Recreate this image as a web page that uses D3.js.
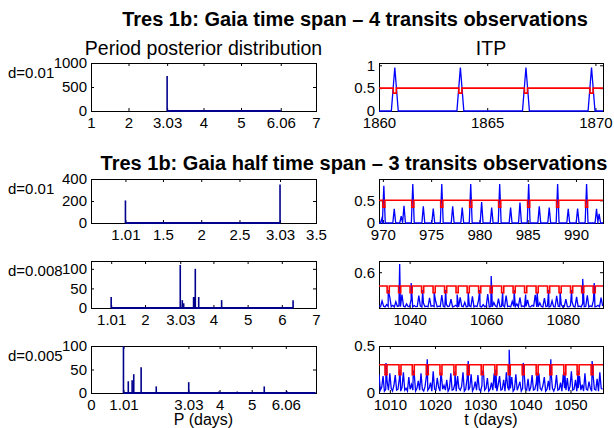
<!DOCTYPE html>
<html>
<head>
<meta charset="utf-8">
<script src="https://cdn.jsdelivr.net/npm/d3@7"></script>
<style>
  body { margin: 0; background: #fff; }
  svg { display: block; font-family: "Liberation Sans", Arial, Helvetica, sans-serif; }
  .tick text { font-size: 15px; fill: #000; }
  .tick line { stroke: #000; }
</style>
</head>
<body>
<svg id="fig" width="614" height="428"></svg>
<script>
// ---- text ----
const figTitles = ["Tres 1b: Gaia time span \u2013 4 transits observations",
                   "Tres 1b: Gaia half time span \u2013 3 transits observations"];
const colTitles = ["Period posterior distribution", "ITP"];
const dLabels = ["d=0.01", "d=0.01", "d=0.008", "d=0.005"];
const xLabels = ["P (days)", "t (days)"];

// ---- period posterior histograms: [P (days), count] ----
const postRow1 = [[3.03, 730], [6.06, 6]];
const postRow2 = [[1.01, 205], [3.03, 350]];
const postRow3 = [[1.01, 28], [3.03, 110], [3.09, 20], [3.13, 12], [3.42, 28], [3.45, 28],
                  [3.47, 100], [3.57, 28], [4.24, 20], [6.33, 20]];
const postRow4 = [[1.01, 100], [1.16, 25], [1.28, 27], [1.33, 40], [1.56, 55], [2.03, 14],
                  [3.04, 23], [3.98, 3], [4.55, 3], [5.02, 2], [5.39, 14], [6.09, 4], [6.98, 1]];

const postXTicks = [[1, 2, 3.03, 4, 5, 6.06, 7], [1.01, 1.5, 2, 2.5, 3.03, 3.5],
                    [1.01, 2, 3.03, 4, 5, 6, 7], [0, 1.01, 3.03, 4, 5, 6.06]];
const postYTicks = [[0, 500, 1000], [0, 200, 400], [0, 50, 100], [0, 50, 100]];
const postXDomains = [[1, 7], [0.56, 3.5], [0.42, 7], [0, 7]];
const postYDomains = [[0, 1000], [0, 400], [0, 120], [0, 100]];

// ---- ITP: transit times, detection thresholds ----
const transitsRow1 = [1860.73, 1863.76, 1866.79, 1869.82];
const transitsRow2 = [970.1, 973.1, 976.1, 979.1, 982.1, 985.1, 988.1, 991.1];
const transitsRow3 = [1034.4, 1037.4, 1040.4, 1043.4, 1046.4, 1049.4, 1052.4, 1055.3, 1058.3, 1061.3,
                      1064.3, 1067.3, 1070.3, 1073.3, 1076.3, 1079.3, 1082.3, 1085.2, 1088.2];
const transitsRow4 = [1009.15, 1012.25, 1015.19, 1018.29, 1021.32, 1024.41, 1027.36, 1030.45,
                      1033.48, 1036.43, 1039.53, 1042.62, 1045.65, 1048.75, 1051.69, 1054.79];
const thresholds = [0.5, 0.5, 0.538, 0.3];
const notchLows = [0.39, 0.35, 0.508, 0.196];

// ITP peak heights at the transit times
const peaksRow1 = [0.95, 0.95, 0.95, 0.95];
const peaksRow2 = [0.82, 0.86, 0.86, 0.86, 0.86, 0.86, 0.86, 0.86];
const peaksRow3 = [0.52, 0.637, 0.552, 0.52, 0.51, 0.52, 0.50, 0.51, 0.52, 0.583,
                   0.51, 0.52, 0.50, 0.51, 0.52, 0.51, 0.52, 0.57, 0.552];
const peaksRow4 = [0.32, 0.25, 0.24, 0.36, 0.22, 0.23, 0.34, 0.22, 0.25, 0.46,
                   0.32, 0.22, 0.36, 0.22, 0.24, 0.34];
// alias peaks between transits (row 2): [t, ITP]
const aliasRow2 = [[969.9, 0.1], [971.18, 0.31], [971.9, 0.15], [972.19, 0.38], [974.19, 0.37],
                   [975.22, 0.32], [977.23, 0.37], [978.22, 0.34], [980.23, 0.46], [981.27, 0.34],
                   [983.23, 0.34], [984.2, 0.45], [986.2, 0.37], [987.23, 0.34], [989.2, 0.31],
                   [990.17, 0.32], [992.13, 0.31], [992.4, 0.2]];

// sampled ITP background (rows 3 and 4)
const noise3Start = 1032.0, noise3Step = 0.4;
const noise3 = [
  0.450,0.446,0.472,0.448,0.445,0.455,0.447,0.490,0.446,0.452,
  0.445,0.468,0.447,0.449,0.446,0.500,0.448,0.445,0.458,0.446,
  0.447,0.478,0.445,0.451,0.446,0.447,0.495,0.449,0.445,0.462,
  0.446,0.448,0.445,0.485,0.447,0.450,0.446,0.470,0.445,0.448,
  0.446,0.498,0.447,0.445,0.456,0.446,0.449,0.480,0.445,0.447,
  0.452,0.446,0.445,0.488,0.448,0.446,0.466,0.445,0.447,0.450,
  0.446,0.492,0.445,0.449,0.446,0.475,0.447,0.445,0.455,0.446,
  0.448,0.502,0.445,0.447,0.446,0.465,0.449,0.445,0.482,0.446,
  0.447,0.451,0.445,0.496,0.446,0.448,0.445,0.470,0.447,0.446,
  0.458,0.445,0.487,0.446,0.449,0.445,0.447,0.476,0.446,0.445,
  0.452,0.448,0.499,0.445,0.446,0.463,0.447,0.445,0.484,0.446,
  0.449,0.445,0.447,0.472,0.446,0.445,0.494,0.448,0.446,0.455,
  0.445,0.447,0.480,0.446,0.445,0.450,0.468,0.447,0.445,0.490,
  0.446,0.448,0.445,0.460,0.446,0.447,0.497,0.445,0.449,0.446,
  0.474,0.445,0.447,0.452,0.446,0.486,0.448];
const noise4Start = 1007.6, noise4Step = 0.3;
const noise4 = [
  0.20,0.03,0.06,0.18,0.02,0.04,0.12,0.03,0.21,0.05,
  0.02,0.08,0.19,0.03,0.04,0.15,0.02,0.06,0.22,0.03,
  0.05,0.02,0.17,0.04,0.09,0.03,0.20,0.02,0.05,0.13,
  0.03,0.21,0.04,0.02,0.07,0.18,0.03,0.05,0.11,0.02,
  0.23,0.04,0.03,0.16,0.06,0.02,0.19,0.04,0.08,0.03,
  0.14,0.02,0.05,0.21,0.03,0.04,0.10,0.02,0.18,0.05,
  0.03,0.07,0.22,0.02,0.04,0.15,0.03,0.06,0.20,0.02,
  0.05,0.12,0.03,0.19,0.04,0.02,0.08,0.24,0.03,0.05,
  0.16,0.02,0.04,0.11,0.03,0.21,0.05,0.02,0.09,0.18,
  0.03,0.04,0.14,0.02,0.22,0.06,0.03,0.05,0.17,0.02,
  0.04,0.20,0.03,0.07,0.12,0.02,0.05,0.23,0.04,0.03,
  0.15,0.02,0.06,0.19,0.03,0.04,0.10,0.02,0.21,0.05,
  0.03,0.08,0.17,0.02,0.04,0.13,0.03,0.22,0.05,0.02,
  0.06,0.19,0.03,0.04,0.11,0.02,0.20,0.05,0.03,0.16,
  0.02,0.07,0.23,0.03,0.04,0.14,0.02,0.05,0.18,0.03,
  0.09,0.02,0.21,0.04,0.03,0.12,0.05,0.02,0.19,0.04,
  0.03,0.15,0.02,0.22,0.05,0.04];

const itpXTicks = [[1860, 1865, 1870], [970, 975, 980, 985, 990], [1040, 1060, 1080],
                   [1010, 1020, 1030, 1040, 1050]];
const itpYTicks = [[0, 0.5, 1], [0, 0.5], [0.6], [0, 0.5]];
const itpXDomains = [[1860, 1870.35], [969.6, 992.8], [1032, 1090.5], [1007.6, 1057.2]];
const itpYDomains = [[0, 1.05], [0, 0.97], [0.44, 0.65], [0, 0.5]];

// ---- layout ----
const navy = "#00008c", blue = "#0000ff", red = "#ff0000";
const leftCol = [91, 316], rightCol = [379, 603];
const rowTops = [63, 179, 261, 346], rowBottoms = [111, 223, 308, 393];

const svg = d3.select("#fig");
svg.append("rect").attr("width", 614).attr("height", 428).attr("fill", "#fff");
let clipCount = 0;

function panel(col, row, xDomain, yDomain, xTicks, yTicks) {
  const x = d3.scaleLinear().domain(xDomain).range(col);
  const y = d3.scaleLinear().domain(yDomain).range([rowBottoms[row], rowTops[row]]);
  const g = svg.append("g");
  const fmt = d => String(d);
  const strip = sel => sel.attr("font-family", null).attr("font-size", null)
                          .call(s => s.select(".domain").remove());
  g.append("g").attr("transform", `translate(0,${rowBottoms[row]})`)
    .call(d3.axisBottom(x).tickValues(xTicks).tickFormat(fmt).tickSizeInner(-3).tickSizeOuter(0).tickPadding(6))
    .call(strip);
  g.append("g").attr("transform", `translate(0,${rowTops[row]})`)
    .call(d3.axisTop(x).tickValues(xTicks).tickFormat("").tickSizeInner(-3).tickSizeOuter(0))
    .call(strip);
  g.append("g").attr("transform", `translate(${col[0]},0)`)
    .call(d3.axisLeft(y).tickValues(yTicks).tickFormat(fmt).tickSizeInner(-3).tickSizeOuter(0).tickPadding(4))
    .call(strip);
  g.append("g").attr("transform", `translate(${col[1]},0)`)
    .call(d3.axisRight(y).tickValues(yTicks).tickFormat("").tickSizeInner(-3).tickSizeOuter(0))
    .call(strip);
  g.append("rect").attr("x", col[0] + 0.5).attr("y", rowTops[row] + 0.5)
    .attr("width", col[1] - col[0]).attr("height", rowBottoms[row] - rowTops[row])
    .attr("fill", "none").attr("stroke", "#000").attr("stroke-width", 1);
  const id = "clip" + (clipCount++);
  svg.append("clipPath").attr("id", id).append("rect")
    .attr("x", col[0]).attr("y", rowTops[row]).attr("width", col[1] - col[0] + 1)
    .attr("height", rowBottoms[row] - rowTops[row] + 2);
  const plot = g.append("g").attr("clip-path", `url(#${id})`);
  return { x, y, plot };
}

// ---- period posterior histograms ----
const posts = [postRow1, postRow2, postRow3, postRow4];
posts.forEach((bins, r) => {
  const p = panel(leftCol, r, postXDomains[r], postYDomains[r], postXTicks[r], postYTicks[r]);
  p.plot.append("line")
    .attr("x1", p.x(bins[0][0])).attr("x2", p.x(bins[bins.length - 1][0]))
    .attr("y1", p.y(0)).attr("y2", p.y(0))
    .attr("stroke", navy).attr("stroke-width", 2.2);
  p.plot.selectAll("line.bin").data(bins).join("line").attr("class", "bin")
    .attr("x1", d => p.x(d[0])).attr("x2", d => p.x(d[0]))
    .attr("y1", p.y(0)).attr("y2", d => p.y(d[1]))
    .attr("stroke", navy).attr("stroke-width", 1.6);
});

// ---- ITP panels ----
const transits = [transitsRow1, transitsRow2, transitsRow3, transitsRow4];
const peaks = [peaksRow1, peaksRow2, peaksRow3, peaksRow4];
const notchHalf = [0.07, 0.11, 0.28, 0.22];
const peakHalf = [0.16, 0.15];

function redPath(ts, thr, low, hw, dom) {
  const pts = [[dom[0], thr]];
  ts.forEach(t => { pts.push([t - hw, thr], [t - hw, low], [t + hw, low], [t + hw, thr]); });
  pts.push([dom[1], thr]);
  return pts;
}

transits.forEach((ts, r) => {
  const dom = itpXDomains[r];
  const p = panel(rightCol, r, dom, itpYDomains[r], itpXTicks[r], itpYTicks[r]);
  const line = d3.line().x(d => p.x(d[0])).y(d => p.y(d[1]));
  let pts;
  if (r < 2) {
    // isolated peaks on a zero baseline
    const spikes = ts.map((t, i) => [t, peaks[r][i]]);
    if (r === 1) aliasRow2.forEach(a => spikes.push(a));
    spikes.sort((a, b) => a[0] - b[0]);
    const hw = peakHalf[r];
    pts = [[dom[0], 0]];
    spikes.forEach(s => pts.push([s[0] - hw, 0], [s[0], s[1]], [s[0] + hw, 0]));
    pts.push([dom[1], 0]);
  } else {
    const vals = r === 2 ? noise3 : noise4;
    const t0 = r === 2 ? noise3Start : noise4Start;
    const dt = r === 2 ? noise3Step : noise4Step;
    pts = vals.map((v, i) => [t0 + i * dt, v]);
    ts.forEach((t, i) => pts.push([t, peaks[r][i]]));
    pts.sort((a, b) => a[0] - b[0]);
  }
  p.plot.append("path").attr("d", line(pts)).attr("fill", "none")
    .attr("stroke", blue).attr("stroke-width", 1.3).attr("stroke-linejoin", "miter");
  p.plot.append("path").attr("d", line(redPath(ts, thresholds[r], notchLows[r], notchHalf[r], dom)))
    .attr("fill", "none").attr("stroke", red).attr("stroke-width", 1.6);
});

// ---- text ----
svg.append("text").attr("x", 355).attr("y", 26).attr("text-anchor", "middle")
  .attr("font-size", 20).attr("font-weight", "bold").text(figTitles[0]);
svg.append("text").attr("x", 354).attr("y", 170).attr("text-anchor", "middle")
  .attr("font-size", 20).attr("font-weight", "bold").text(figTitles[1]);
svg.append("text").attr("x", (leftCol[0] + leftCol[1]) / 2).attr("y", 55).attr("text-anchor", "middle")
  .attr("font-size", 19.5).text(colTitles[0]);
svg.append("text").attr("x", (rightCol[0] + rightCol[1]) / 2).attr("y", 55).attr("text-anchor", "middle")
  .attr("font-size", 19.5).text(colTitles[1]);
dLabels.forEach((s, r) => {
  svg.append("text").attr("x", 8).attr("y", rowTops[r] + 15).attr("font-size", 15).text(s);
});
svg.append("text").attr("x", (leftCol[0] + leftCol[1]) / 2).attr("y", 425).attr("text-anchor", "middle")
  .attr("font-size", 16).text(xLabels[0]);
svg.append("text").attr("x", (rightCol[0] + rightCol[1]) / 2).attr("y", 425).attr("text-anchor", "middle")
  .attr("font-size", 16).text(xLabels[1]);
</script>
</body>
</html>
